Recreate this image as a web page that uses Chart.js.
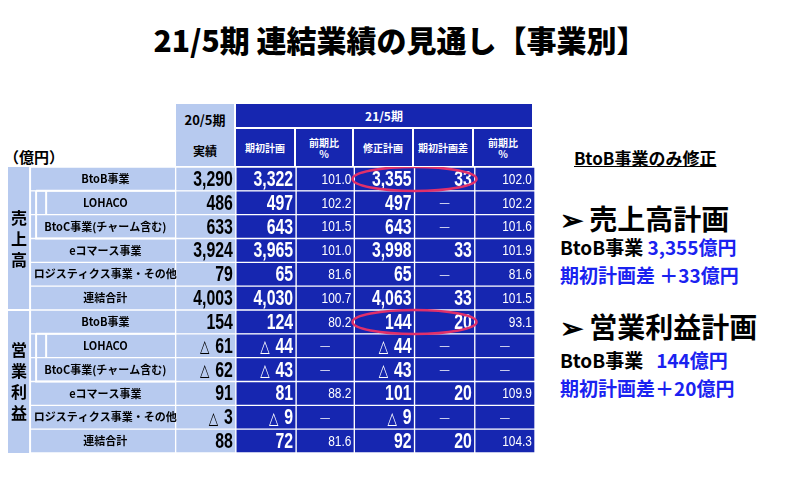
<!DOCTYPE html>
<html><head><meta charset="utf-8">
<script src="https://cdn.jsdelivr.net/npm/chart.js@4"></script>
<style>
body{margin:0;width:800px;height:478px;background:#fff;font-family:"Noto Sans CJK JP",sans-serif;position:relative;overflow:hidden}
.a{position:absolute;white-space:nowrap}
.h{position:absolute;display:flex;align-items:center;justify-content:center;text-align:center;font-weight:bold;font-size:10px;line-height:11px;box-sizing:border-box;border:1px solid #fff}
.dk{background:#1626b0;color:#fff}.lt{background:#b7caef;color:#000}
.bl{color:#1a22f0}
</style></head><body>
<div class="a" style="left:0;width:800px;top:17px;text-align:center;font-size:30px;font-weight:900">21/5期 連結業績の見通し【事業別】</div>
<div class="a" style="left:4px;top:146px;font-size:15px;font-weight:bold">（億円）</div>
<div class="h lt" style="left:175px;top:103px;width:60px;height:64px;flex-direction:column;justify-content:space-around;font-size:12px"><span style="font-size:13px">20/5期</span><span>実績</span></div>
<div class="h dk" style="left:235px;top:103px;width:298px;height:25px;font-size:12px">21/5期</div>
<div class="h dk" style="left:235px;top:128px;width:60px;height:39px">期初計画</div>
<div class="h dk" style="left:295px;top:128px;width:58px;height:39px">前期比<br>%</div>
<div class="h dk" style="left:353px;top:128px;width:60px;height:39px">修正計画</div>
<div class="h dk" style="left:413px;top:128px;width:60px;height:39px">期初計画差</div>
<div class="h dk" style="left:473px;top:128px;width:60px;height:39px">前期比<br>%</div>
<canvas id="c" width="527" height="286" style="position:absolute;left:8px;top:167px"></canvas>
<div class="a" style="left:574px;top:145px;font-size:17px;font-weight:bold;text-decoration:underline">BtoB事業のみ修正</div>
<div class="a" style="left:560px;top:198px;font-size:28px;font-weight:bold">➢ 売上高計画</div>
<div class="a" style="left:560px;top:233px;font-size:19px;font-weight:bold">BtoB事業 <span class="bl">3,355億円</span></div>
<div class="a bl" style="left:560px;top:261px;font-size:19px;font-weight:bold">期初計画差 ＋33億円</div>
<div class="a" style="left:560px;top:306px;font-size:28px;font-weight:bold">➢ 営業利益計画</div>
<div class="a" style="left:560px;top:346px;font-size:19px;font-weight:bold">BtoB事業 &nbsp;&nbsp;<span class="bl">144億円</span></div>
<div class="a bl" style="left:560px;top:374px;font-size:19px;font-weight:bold">期初計画差＋20億円</div>
<script>
const rowLabels=["BtoB事業","LOHACO","BtoC事業(チャーム含む)","eコマース事業","ロジスティクス事業・その他","連結合計","BtoB事業","LOHACO","BtoC事業(チャーム含む)","eコマース事業","ロジスティクス事業・その他","連結合計"];
const groupLabels=["売上高","営業利益"];
const actual205=["3,290","486","633","3,924","79","4,003","154","△ 61","△ 62","91","△ 3","88"];
const initialPlan=["3,322","497","643","3,965","65","4,030","124","△ 44","△ 43","81","△ 9","72"];
const yoyInitial=["101.0","102.2","101.5","101.0","81.6","100.7","80.2","—","—","88.2","—","81.6"];
const revisedPlan=["3,355","497","643","3,998","65","4,063","144","△ 44","△ 43","101","△ 9","92"];
const diffInitial=["33","—","—","33","—","33","20","—","—","20","—","20"];
const yoyRevised=["102.0","102.2","101.6","101.9","81.6","101.5","93.1","—","—","109.9","—","104.3"];
const highlightRows=[0,6];
const edges=[0,22,167,227,287,345,405,465,525];
const LIGHT="#b7caef",DARK="#1626b0";
const cols=[null,null,actual205,initialPlan,yoyInitial,revisedPlan,diffInitial,yoyRevised];
const datasets=[];
for(let c=0;c<8;c++){
  datasets.push({data:rowLabels.map(()=>[edges[c],edges[c+1]]),backgroundColor:c<3?LIGHT:DARK,
    borderColor:"#fff",borderWidth:c===0?0:1,borderSkipped:false,barPercentage:1,categoryPercentage:1});
}
const textPlugin={id:"t",afterDatasetsDraw(ch){
  const ctx=ch.ctx,x=ch.scales.x,y=ch.scales.y,rh=y.getPixelForValue(1)-y.getPixelForValue(0);
  ctx.save();
  ctx.fillStyle=LIGHT;ctx.fillRect(x.getPixelForValue(0),y.top,x.getPixelForValue(22),y.bottom-y.top);
  ctx.strokeStyle="#fff";ctx.lineWidth=2;
  const yb=i=>y.getPixelForValue(i)-rh/2;
  ctx.beginPath();
  ctx.moveTo(x.getPixelForValue(0),yb(6));ctx.lineTo(x.getPixelForValue(22),yb(6));
  ctx.moveTo(x.getPixelForValue(22),y.top);ctx.lineTo(x.getPixelForValue(22),y.bottom);
  [0,6].forEach(s=>{
    ctx.moveTo(x.getPixelForValue(28),yb(s+1));ctx.lineTo(x.getPixelForValue(28),yb(s+3));
    ctx.lineTo(x.getPixelForValue(167),yb(s+3));
    ctx.moveTo(x.getPixelForValue(38),yb(s+1));ctx.lineTo(x.getPixelForValue(38),yb(s+2));
    ctx.moveTo(x.getPixelForValue(28),yb(s+1));ctx.lineTo(x.getPixelForValue(167),yb(s+1));
  });
  ctx.stroke();
  ctx.fillStyle="#000";ctx.font="bold 16px 'Noto Sans CJK JP'";ctx.textAlign="center";ctx.textBaseline="middle";
  groupLabels.forEach((g,gi)=>{const cy=(yb(gi*6)+yb(gi*6+6))/2;const n=g.length;
    [...g].forEach((ch2,k)=>ctx.fillText(ch2,x.getPixelForValue(11),cy+(k-(n-1)/2)*21));});
  rowLabels.forEach((l,i)=>{
    const cy=y.getPixelForValue(i);
    ctx.fillStyle="#000";ctx.font="bold 11px 'Noto Sans CJK JP'";ctx.textAlign="center";
    ctx.fillText(l,x.getPixelForValue(97),cy);
    for(let c=2;c<8;c++){
      const v=cols[c][i],big=(c===2||c===3||c===5||c===6);
      ctx.fillStyle=c===2?"#000":"#fff";
      if(v==="—"){ctx.textAlign="center";ctx.font="12px 'Noto Sans CJK JP'";ctx.fillText(v,x.getPixelForValue((edges[c]+edges[c+1])/2),cy);continue;}
      ctx.save();
      ctx.translate(x.getPixelForValue(edges[c+1]-3),cy+1);
      ctx.scale(big?0.72:0.85,1);
      ctx.textAlign="right";
      if(v.startsWith("△")){
        const num=v.slice(1).trim();
        ctx.font="bold 22px 'Liberation Sans'";
        const w=ctx.measureText(num).width;
        ctx.fillText(num,0,0);
        ctx.font="bold 17px 'DejaVu Sans'";
        ctx.fillText("△",-w-8,1);
      } else {
        ctx.font=big?"bold 22px 'Liberation Sans'":"14px 'Liberation Sans'";
        ctx.fillText(v,0,0);
      }
      ctx.restore();
    }
  });
  ctx.strokeStyle="#e0306a";ctx.lineWidth=2.5;
  highlightRows.forEach(r=>{ctx.beginPath();ctx.ellipse(x.getPixelForValue(405),y.getPixelForValue(r),62,12,0,0,Math.PI*2);ctx.stroke();});
  ctx.restore();
}};
new Chart(document.getElementById("c"),{type:"bar",data:{labels:rowLabels,datasets},
 options:{indexAxis:"y",responsive:false,animation:false,layout:{padding:0},
  plugins:{legend:{display:false},tooltip:{enabled:false}},
  scales:{x:{type:"linear",min:0,max:525,display:false,stacked:false},y:{display:false,stacked:true}}},
 plugins:[textPlugin]});
</script></body></html>
